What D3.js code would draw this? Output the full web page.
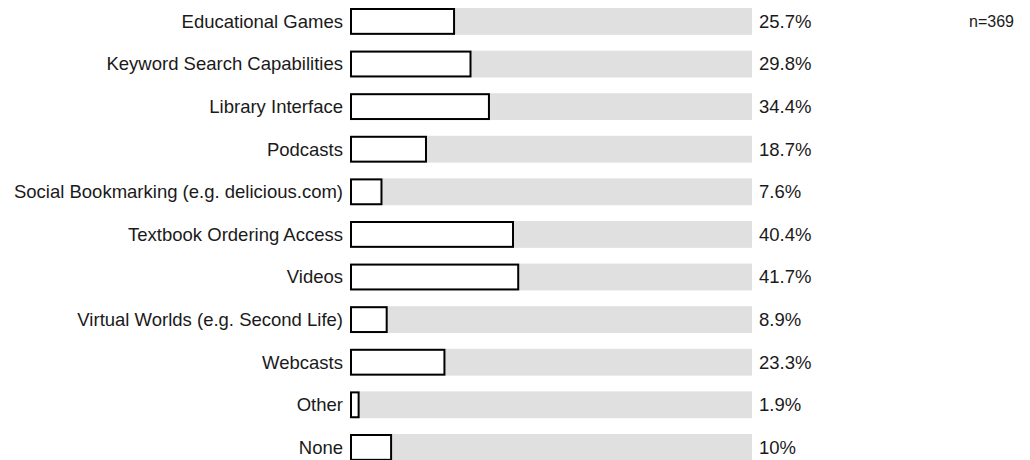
<!DOCTYPE html>
<html>
<head>
<meta charset="utf-8">
<script src="https://cdn.jsdelivr.net/npm/d3@7"></script>
<style>
  body { margin: 0; background: #fff; }
  text { font-family: "Liberation Sans", Arial, sans-serif; fill: #1a1a1a; }
</style>
</head>
<body>
<svg class="chart" width="1030" height="460"></svg>
<script>
const categories = [
  "Educational Games",
  "Keyword Search Capabilities",
  "Library Interface",
  "Podcasts",
  "Social Bookmarking (e.g. delicious.com)",
  "Textbook Ordering Access",
  "Videos",
  "Virtual Worlds (e.g. Second Life)",
  "Webcasts",
  "Other",
  "None"
]
const values = [25.7, 29.8, 34.4, 18.7, 7.6, 40.4, 41.7, 8.9, 23.3, 1.9, 10]
const valueLabels = ["25.7%", "29.8%", "34.4%", "18.7%", "7.6%", "40.4%", "41.7%", "8.9%", "23.3%", "1.9%", "10%"]
const sampleNote = "n=369"

const svg = d3.select("svg.chart")

const x = d3.scaleLinear()
    .domain([0, 100])
    .range([351, 752])

// rows ~42.6px apart, last one runs off the bottom
const step = 42.6
const pad = 0.37
const y = d3.scaleBand()
    .domain(categories)
    .range([8, 8 + step * (categories.length - pad)])
    .paddingInner(pad)
    .paddingOuter(0)

const rows = svg.selectAll("g.row")
    .data(categories)
    .enter()
    .append("g")
    .attr("class", "row")

// grey track for the full 100%
rows.append("rect")
    .attr("x", x(0))
    .attr("y", d => y(d))
    .attr("width", x(100) - x(0))
    .attr("height", y.bandwidth())
    .attr("fill", "#e0e0e0")

rows.append("rect")
    .attr("x", x(0))
    .attr("y", d => y(d) + 1)
    .attr("width", (d, i) => x(values[i]) - x(0))
    .attr("height", y.bandwidth() - 2)
    .attr("fill", "#fff")
    .attr("stroke", "#000")
    .attr("stroke-width", 2)

rows.append("text")
    .attr("x", x(0) - 8)
    .attr("y", d => y(d) + y.bandwidth() / 2)
    .attr("dy", "0.35em")
    .attr("text-anchor", "end")
    .attr("font-size", 18.5)
    .text(d => d)

rows.append("text")
    .attr("x", x(100) + 7)
    .attr("y", d => y(d) + y.bandwidth() / 2)
    .attr("dy", "0.35em")
    .attr("font-size", 18.5)
    .text((d, i) => valueLabels[i])

svg.append("text")
    .attr("x", 1014)
    .attr("y", 21)
    .attr("dy", "0.35em")
    .attr("text-anchor", "end")
    .attr("font-size", 16)
    .text(sampleNote)
</script>
</body>
</html>
